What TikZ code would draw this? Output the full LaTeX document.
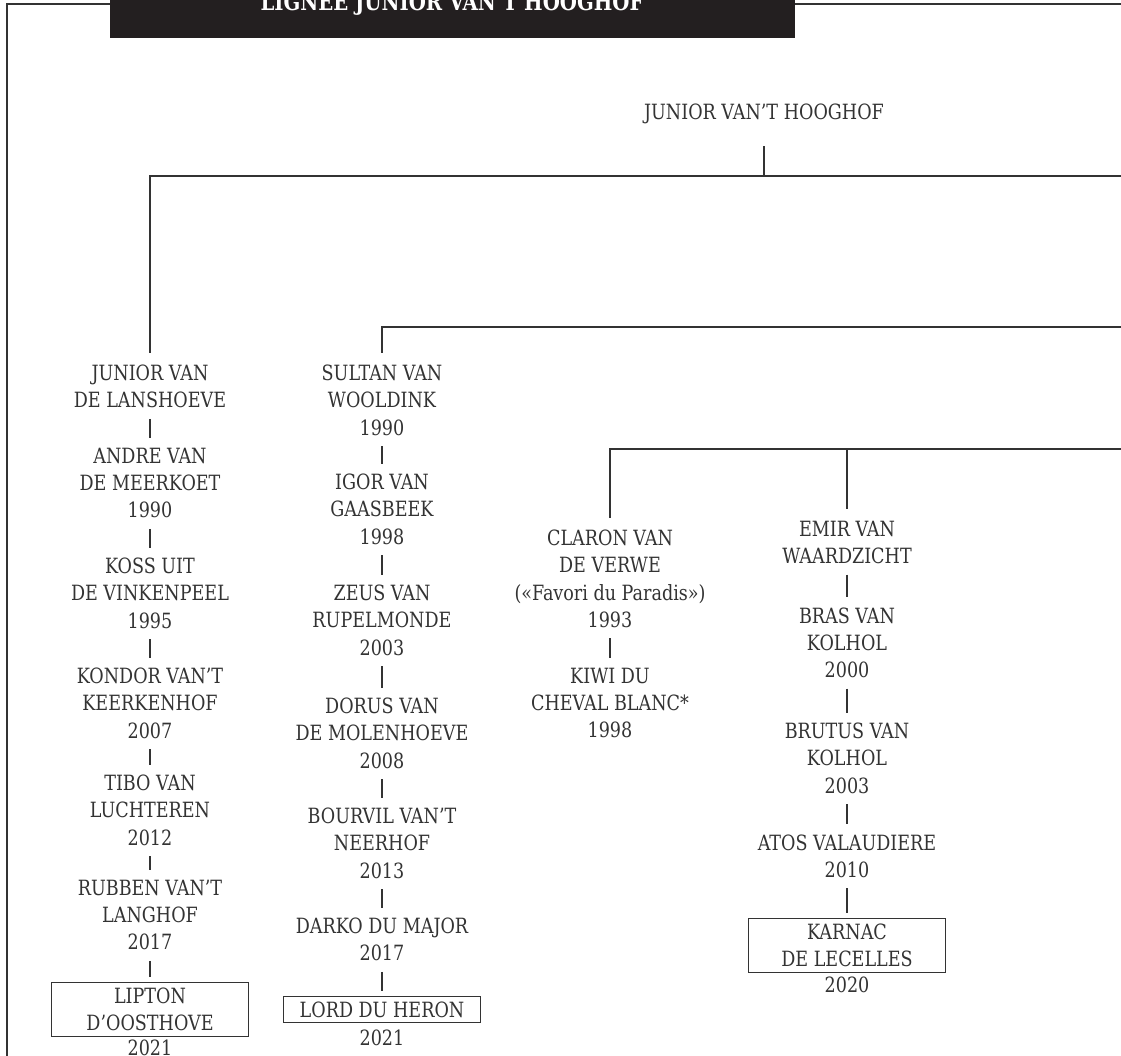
\documentclass[tikz,border=0pt]{standalone}
\usepackage{fontspec}
\setmainfont{DejaVu Serif Condensed}[FakeStretch=0.93]
\definecolor{ink}{HTML}{333333}
\definecolor{hdr}{HTML}{231F20}
\begin{document}
\begin{tikzpicture}[x=1pt,y=-1pt,
  horse/.style={align=center, inner sep=0pt, anchor=north, text=ink, font=\fontsize{21}{27.2}\selectfont},
  boxed/.style={horse, draw=ink, line width=1.1pt, minimum width=197pt, inner ysep=5.5pt, inner xsep=0pt},
  conn/.style={draw=ink, line width=1.2pt},
  frame/.style={draw=ink, line width=1.6pt}]
\useasboundingbox (0,0) rectangle (1121,1056);
\clip (0,0) rectangle (1121,1056);
% frame and header
\draw[frame] (110,4) -- (7,4) -- (7,1062);
\draw[frame] (795,4) -- (1126,4);
\fill[hdr] (110,-5) rectangle (795,38);
\node[anchor=base, text=white, inner sep=0pt, font=\fontsize{23.5}{26}\selectfont\bfseries] (title) at (452,11) {LIGNEE JUNIOR VAN’T HOOGHOF};
% root
\node[horse] (root) at (764,104) {JUNIOR VAN’T HOOGHOF};
\coordinate (bar1) at (1126,176);
\coordinate (bar2) at (1126,327);
\coordinate (bar3) at (1126,449);
% column 1
\node[horse] (c1a) at (150,365) {JUNIOR VAN\\DE LANSHOEVE};
\node[horse] (c1b) at (150,448) {ANDRE VAN\\DE MEERKOET\\1990};
\node[horse] (c1c) at (150,558) {KOSS UIT\\DE VINKENPEEL\\1995};
\node[horse] (c1d) at (150,668) {KONDOR VAN’T\\KEERKENHOF\\2007};
\node[horse] (c1e) at (150,775) {TIBO VAN\\LUCHTEREN\\2012};
\node[horse] (c1f) at (150,880) {RUBBEN VAN’T\\LANGHOF\\2017};
\node[boxed] (c1g) at (150,982) {LIPTON\\D’OOSTHOVE};
\node[horse] (c1y) at (150,1040) {2021};
% column 2
\node[horse] (c2a) at (382,365) {SULTAN VAN\\WOOLDINK\\1990};
\node[horse] (c2b) at (382,474) {IGOR VAN\\GAASBEEK\\1998};
\node[horse] (c2c) at (382,585) {ZEUS VAN\\RUPELMONDE\\2003};
\node[horse] (c2d) at (382,698) {DORUS VAN\\DE MOLENHOEVE\\2008};
\node[horse] (c2e) at (382,808) {BOURVIL VAN’T\\NEERHOF\\2013};
\node[horse] (c2f) at (382,918) {DARKO DU MAJOR\\2017};
\node[boxed, inner ysep=5pt] (c2g) at (382,996) {LORD DU HERON};
\node[horse] (c2y) at (382,1030) {2021};
% column 3
\node[horse] (c3a) at (610,530) {CLARON VAN\\DE VERWE\\(«Favori du Paradis»)\\1993};
\node[horse] (c3b) at (610,668) {KIWI DU\\CHEVAL BLANC*\\1998};
% column 4
\node[horse] (c4a) at (847,521) {EMIR VAN\\WAARDZICHT};
\node[horse] (c4b) at (847,607.5) {BRAS VAN\\KOLHOL\\2000};
\node[horse] (c4c) at (847,723) {BRUTUS VAN\\KOLHOL\\2003};
\node[horse] (c4d) at (847,834.5) {ATOS VALAUDIERE\\2010};
\node[boxed] (c4e) at (847,917.5) {KARNAC\\DE LECELLES};
\node[horse] (c4y) at (847,976.5) {2020};
% bars and drops
\draw[conn] ([yshift=-22pt]root.south) -- (root.south |- bar1);
\draw[conn] (bar1) -- (c1a.north |- bar1) -- ([yshift=12pt]c1a.north);
\draw[conn] (bar2) -- (c2a.north |- bar2) -- ([yshift=12pt]c2a.north);
\draw[conn] (bar3) -- (c3a.north |- bar3) -- ([yshift=12pt]c3a.north);
\draw[conn] (c4a.north |- bar3) -- ([yshift=12pt]c4a.north);
% chains
\foreach \a/\b in {c1a/c1b, c1b/c1c, c1c/c1d, c1d/c1e, c1e/c1f,
                   c2a/c2b, c2b/c2c, c2c/c2d, c2d/c2e, c2e/c2f,
                   c3a/c3b,
                   c4a/c4b, c4b/c4c, c4c/c4d}
  \draw[conn] ([yshift=-10.5pt]\a.south) -- ([yshift=10.5pt]\b.north);
\foreach \a/\b in {c1f/c1g, c2f/c2g, c4d/c4e}
  \draw[conn] ([yshift=-10.5pt]\a.south) -- ([yshift=5pt]\b.north);
\end{tikzpicture}
\end{document}
